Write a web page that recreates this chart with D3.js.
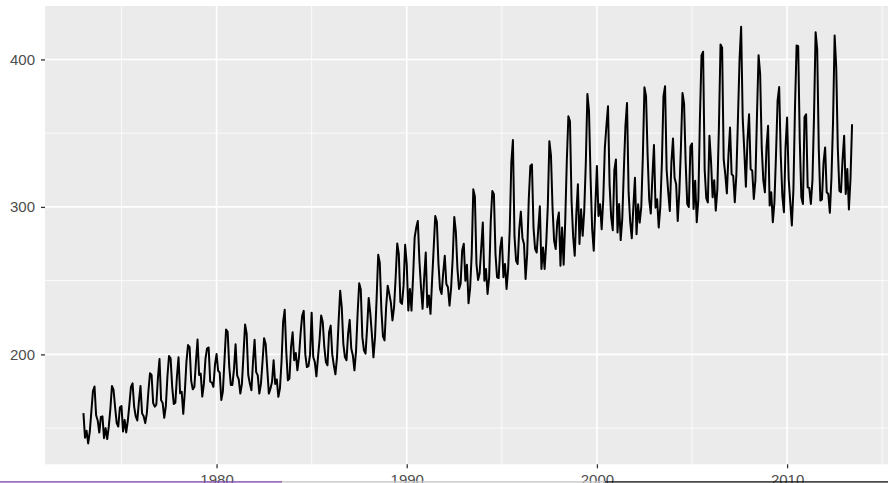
<!DOCTYPE html>
<html>
<head>
<meta charset="utf-8">
<script src="https://cdn.jsdelivr.net/npm/d3@7"></script>
<style>
  html, body { margin: 0; padding: 0; background: #fff; }
  svg { display: block; }
</style>
</head>
<body>
<svg id="chart" width="888" height="483"></svg>
<script>
/* monthly net generation, Jan 1973 .. Jun 2013, one row per year */
const startYear = 1973;
const monthly = [
  160.2, 143.5, 148.2, 139.6, 147.4, 161.2, 175.2, 178.2, 158.7, 155.2, 147.0, 157.6, // 1973
  158.0, 143.2, 150.0, 142.6, 151.0, 163.0, 178.6, 176.0, 164.0, 153.4, 151.1, 164.0, // 1974
  165.0, 147.7, 155.6, 147.1, 155.0, 166.0, 178.0, 180.4, 164.6, 158.0, 155.2, 168.0, // 1975
  178.6, 160.0, 158.0, 153.4, 160.0, 175.0, 187.2, 186.0, 167.0, 164.6, 166.0, 184.0, // 1976
  196.8, 169.0, 167.0, 157.0, 165.0, 185.0, 198.9, 197.3, 178.0, 166.4, 167.3, 185.0, // 1977
  198.0, 173.6, 174.7, 159.7, 175.0, 195.0, 206.3, 205.0, 182.0, 176.3, 178.0, 195.0, // 1978
  210.1, 186.0, 187.0, 171.4, 180.0, 197.0, 204.0, 204.7, 181.5, 181.0, 178.0, 193.0, // 1979
  200.2, 189.0, 187.6, 169.1, 175.0, 196.0, 216.9, 215.3, 191.7, 179.3, 179.3, 190.0, // 1980
  206.8, 185.8, 183.0, 173.4, 180.0, 200.0, 220.3, 214.0, 186.0, 180.2, 175.7, 195.0, // 1981
  209.9, 188.0, 185.8, 173.4, 180.0, 195.0, 211.0, 207.0, 190.0, 173.4, 176.8, 181.3, // 1982
  196.0, 180.0, 183.0, 171.2, 177.0, 195.0, 222.0, 230.2, 201.6, 182.4, 183.6, 205.0, // 1983
  215.0, 196.0, 201.0, 189.2, 198.0, 214.0, 226.0, 229.5, 200.0, 191.4, 192.0, 200.0, // 1984
  228.3, 198.2, 194.8, 185.1, 198.0, 210.0, 226.4, 222.0, 205.0, 194.8, 192.6, 215.0, // 1985
  219.5, 200.0, 192.6, 186.5, 198.0, 222.0, 243.2, 232.0, 207.2, 198.2, 196.0, 214.0, // 1986
  223.4, 204.0, 199.3, 189.2, 202.0, 227.5, 248.2, 244.0, 211.7, 202.7, 200.5, 218.0, // 1987
  238.3, 228.0, 213.7, 198.0, 211.7, 238.0, 267.6, 262.0, 230.2, 212.2, 209.5, 232.0, // 1988
  246.6, 241.0, 235.0, 223.0, 232.0, 252.0, 275.2, 268.0, 235.4, 234.2, 246.6, 274.3, // 1989
  261.3, 229.7, 244.4, 229.7, 252.3, 279.3, 286.0, 290.5, 263.5, 245.5, 230.9, 252.0, // 1990
  269.1, 232.0, 240.0, 227.5, 250.0, 272.0, 293.9, 290.0, 262.0, 244.4, 241.0, 255.0, // 1991
  266.9, 247.7, 245.5, 233.1, 245.0, 265.0, 293.2, 283.0, 258.0, 244.4, 248.0, 270.7, // 1992
  275.0, 250.0, 260.8, 234.7, 245.0, 268.0, 311.9, 307.0, 261.3, 250.5, 255.0, 272.0, // 1993
  289.4, 250.0, 257.9, 241.0, 252.0, 290.0, 310.8, 308.6, 268.0, 252.3, 251.8, 272.0, // 1994
  279.3, 252.3, 261.3, 244.4, 258.0, 285.0, 330.0, 345.3, 280.0, 263.5, 261.3, 285.0, // 1995
  296.8, 279.0, 274.8, 251.1, 268.0, 305.0, 327.7, 328.8, 286.0, 271.4, 269.1, 285.0, // 1996
  300.4, 257.9, 272.5, 257.9, 275.0, 300.0, 344.6, 335.0, 299.5, 277.0, 271.4, 290.0, // 1997
  296.2, 260.1, 286.0, 260.8, 290.0, 331.0, 361.5, 358.1, 304.0, 280.0, 266.9, 295.0, // 1998
  315.3, 274.8, 298.4, 280.4, 297.3, 330.0, 376.6, 365.0, 320.0, 285.0, 270.3, 300.0, // 1999
  327.7, 293.9, 301.8, 284.9, 305.0, 340.0, 355.0, 368.2, 315.0, 293.0, 284.2, 325.0, // 2000
  332.2, 282.7, 302.0, 277.5, 292.0, 325.0, 355.0, 370.5, 310.0, 290.0, 278.8, 300.0, // 2001
  319.8, 281.5, 301.8, 289.4, 300.0, 335.0, 381.1, 375.0, 335.0, 305.0, 295.5, 320.0, // 2002
  341.9, 299.5, 305.2, 286.0, 300.0, 330.0, 375.0, 381.8, 325.0, 310.0, 297.3, 330.0, // 2003
  346.4, 319.8, 315.3, 290.5, 310.0, 340.0, 377.3, 370.0, 330.0, 302.0, 300.0, 341.0, // 2004
  343.0, 298.6, 317.8, 289.6, 305.0, 360.0, 402.7, 405.2, 325.0, 306.0, 303.0, 348.2, // 2005
  331.0, 306.5, 318.0, 297.5, 312.0, 355.0, 410.1, 408.0, 332.0, 322.0, 309.2, 335.0, // 2006
  353.8, 322.3, 321.0, 303.2, 322.0, 360.0, 400.0, 422.1, 360.0, 338.0, 313.7, 345.0, // 2007
  362.8, 325.7, 324.5, 305.4, 318.0, 362.0, 402.9, 390.0, 340.0, 318.0, 309.9, 340.0, // 2008
  355.0, 300.9, 309.9, 289.6, 303.0, 335.0, 372.0, 381.3, 335.0, 307.7, 296.4, 340.0, // 2009
  360.6, 318.9, 303.2, 287.4, 312.0, 368.0, 409.5, 409.0, 345.0, 306.5, 302.0, 361.0, // 2010
  362.8, 313.3, 312.8, 302.0, 318.0, 362.0, 418.5, 406.8, 339.0, 304.3, 305.0, 330.0, // 2011
  340.3, 309.9, 308.8, 296.0, 320.0, 358.0, 416.2, 395.0, 340.0, 311.0, 310.0, 332.0, // 2012
  348.2, 308.8, 325.7, 298.2, 318.9, 356.1                                             // 2013
];

const yMajor = [200, 300, 400];
const yMinor = [150, 250, 350];
const xMajor = [1980, 1990, 2000, 2010];
const xMinor = [1975, 1985, 1995, 2005, 2015];

/* ---------- layout (ggplot grey theme, cropped on right and bottom) ---------- */
const panel = { l: 45, t: 6, r: 890.5, b: 464.3 };
const FONT = '"Liberation Sans", Arial, Helvetica, sans-serif';

const pts = monthly.map((v, i) => ({ t: startYear + i / 12, v }));
const expand = ([a, b]) => { const d = (b - a) * 0.05; return [a - d, b + d]; };

const x = d3.scaleLinear()
  .domain(expand(d3.extent(pts, d => d.t)))
  .range([panel.l, panel.r]);
const y = d3.scaleLinear()
  .domain(expand(d3.extent(pts, d => d.v)))
  .range([panel.b, panel.t]);

const svg = d3.select('#chart');

svg.append('rect')
  .attr('x', panel.l).attr('y', panel.t)
  .attr('width', panel.r - panel.l).attr('height', panel.b - panel.t)
  .attr('fill', '#EBEBEB');

// grid
const grid = svg.append('g');
yMinor.forEach(v => grid.append('line')
  .attr('x1', panel.l).attr('x2', panel.r).attr('y1', y(v)).attr('y2', y(v))
  .attr('stroke', '#fff').attr('stroke-width', 0.8));
xMinor.forEach(t => grid.append('line')
  .attr('x1', x(t)).attr('x2', x(t)).attr('y1', panel.t).attr('y2', panel.b)
  .attr('stroke', '#fff').attr('stroke-width', 0.8));
yMajor.forEach(v => grid.append('line')
  .attr('x1', panel.l).attr('x2', panel.r).attr('y1', y(v)).attr('y2', y(v))
  .attr('stroke', '#fff').attr('stroke-width', 1.6));
xMajor.forEach(t => grid.append('line')
  .attr('x1', x(t)).attr('x2', x(t)).attr('y1', panel.t).attr('y2', panel.b)
  .attr('stroke', '#fff').attr('stroke-width', 1.6));

// series
svg.append('path')
  .datum(pts)
  .attr('d', d3.line().x(d => x(d.t)).y(d => y(d.v)))
  .attr('fill', 'none')
  .attr('stroke', '#000')
  .attr('stroke-width', 2)
  .attr('stroke-linejoin', 'round');

// axes
function styleAxis(g) {
  g.select('.domain').remove();
  g.selectAll('.tick line').attr('stroke', '#333').attr('stroke-width', 1.3);
  g.selectAll('.tick text')
    .attr('fill', '#4D4D4D')
    .attr('font-family', FONT)
    .attr('font-size', 15);
}

svg.append('g')
  .attr('transform', `translate(${panel.l},0)`)
  .call(d3.axisLeft(y).tickValues(yMajor).tickSize(4).tickPadding(6))
  .call(styleAxis);

svg.append('g')
  .attr('transform', `translate(0,${panel.b})`)
  .call(d3.axisBottom(x).tickValues(xMajor).tickFormat(d3.format('d')).tickSize(4).tickPadding(6.5))
  .call(styleAxis);

// thin strip along the bottom edge of the capture
const strip = [[0, 282, '#8350A8'], [282, 605, '#C8C8C8'], [605, 888, '#1E1E1E']];
strip.forEach(([a, b, c]) => svg.append('rect')
  .attr('x', a).attr('y', 481.2).attr('width', b - a).attr('height', 1.4).attr('fill', c));
</script>
</body>
</html>
